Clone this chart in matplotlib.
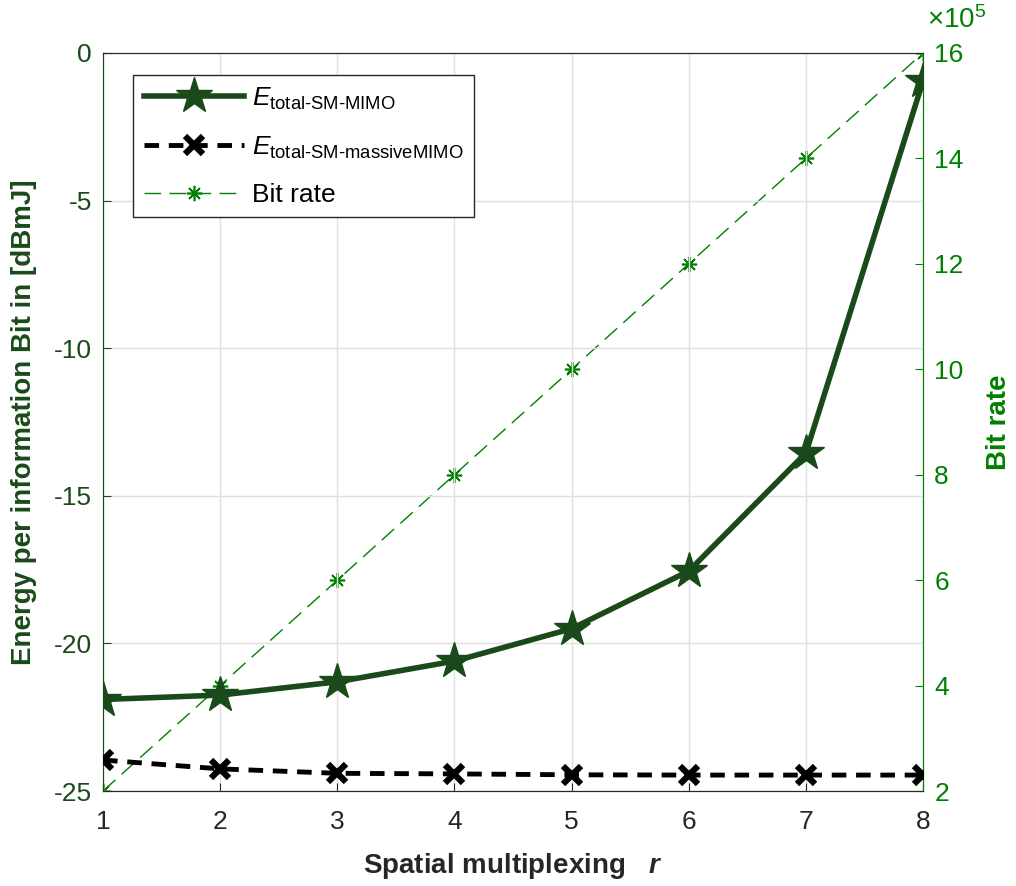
import matplotlib
matplotlib.use('Agg')
from matplotlib import pyplot as plt

plt.rcParams['font.family'] = ['Liberation Sans', 'DejaVu Sans']
plt.rcParams['mathtext.fontset'] = 'custom'
plt.rcParams['mathtext.it'] = 'Liberation Sans:italic'
plt.rcParams['mathtext.rm'] = 'Liberation Sans'
plt.rcParams['mathtext.bfit'] = 'Liberation Sans:italic:bold'

# data
r = [1, 2, 3, 4, 5, 6, 7, 8]
e_sm_mimo = [-21.9, -21.75, -21.3, -20.6, -19.5, -17.55, -13.55, -0.95]
e_sm_massive = [-23.95, -24.25, -24.4, -24.42, -24.45, -24.46, -24.46, -24.46]
bit_rate = [2e5, 4e5, 6e5, 8e5, 10e5, 12e5, 14e5, 16e5]

dkgreen = '#1a4a1a'
green = '#008000'

fig = plt.figure(figsize=(10.16, 8.86), dpi=100)
ax = fig.add_axes([0.1014, 0.1072, 0.8071, 0.833])
ax2 = ax.twinx()
ax.set_zorder(ax2.get_zorder() + 1)
ax.patch.set_visible(False)

ax2.plot(r, bit_rate, color=green, lw=1, ls=(0, (12, 6)), marker=(8, 2, 0),
         ms=11, mew=1.2, label='Bit rate', zorder=2)

l1, = ax.plot(r, e_sm_mimo, color=dkgreen, lw=4, marker='*', ms=27,
              label=r'$E_{\mathrm{total\text{-}SM\text{-}MIMO}}$', zorder=4)
l2, = ax.plot(r, e_sm_massive, color='black', lw=3.5, ls=(0, (3, 2)), marker='x',
              ms=13, mew=4.5, label=r'$E_{\mathrm{total\text{-}SM\text{-}massiveMIMO}}$',
              zorder=3)

ax.set_xlim(1, 8)
ax.set_ylim(-25, 0)
ax2.set_ylim(2e5, 16e5)
ax.set_xticks(r)
ax.set_yticks([-25, -20, -15, -10, -5, 0])
ax.set_yticklabels(['-25', '-20', '-15', '-10', '-5', '0'])
ax2.set_yticks([2e5, 4e5, 6e5, 8e5, 10e5, 12e5, 14e5, 16e5])
ax2.set_yticklabels(['2', '4', '6', '8', '10', '12', '14', '16'])

ax.grid(True, color='#e0e0e0', lw=1)
ax.set_axisbelow(True)

ax.tick_params(axis='x', colors='#262626', labelsize=19, direction='in', length=6, pad=14)
ax.tick_params(axis='y', colors=dkgreen, labelsize=19, direction='in', length=6, pad=8)
ax2.tick_params(axis='y', colors=green, labelsize=19, direction='in', length=6, pad=8)

for a in (ax, ax2):
    a.spines['top'].set_color('#262626')
    a.spines['bottom'].set_color('#262626')
    a.spines['left'].set_color(dkgreen)
    a.spines['right'].set_color(green)

ax.set_xlabel(r'Spatial multiplexing   $\mathbfit{r}$', fontsize=20,
              fontweight='bold', color='#262626', labelpad=12)
ax.set_ylabel('Energy per information Bit in [dBmJ]', fontsize=20,
              fontweight='bold', color=dkgreen, labelpad=12)
ax2.set_ylabel('Bit rate', fontsize=20, fontweight='bold', color=green, labelpad=16)

fig.text(0.912, 0.962, r'$\times10^5$', color=green, fontsize=20, ha='left', va='bottom')

h2, lab2 = ax2.get_legend_handles_labels()
leg = ax.legend([l1, l2] + h2, [l1.get_label(), l2.get_label()] + lab2,
                loc='upper left', bbox_to_anchor=(0.037, 0.97), fontsize=19,
                fancybox=False, edgecolor='#262626', framealpha=1,
                handlelength=3.8, handletextpad=0.3, borderpad=0.4,
                labelspacing=0.85, borderaxespad=0)
leg.get_frame().set_linewidth(1)

fig.savefig('out.png', dpi=100)
plt.close()
